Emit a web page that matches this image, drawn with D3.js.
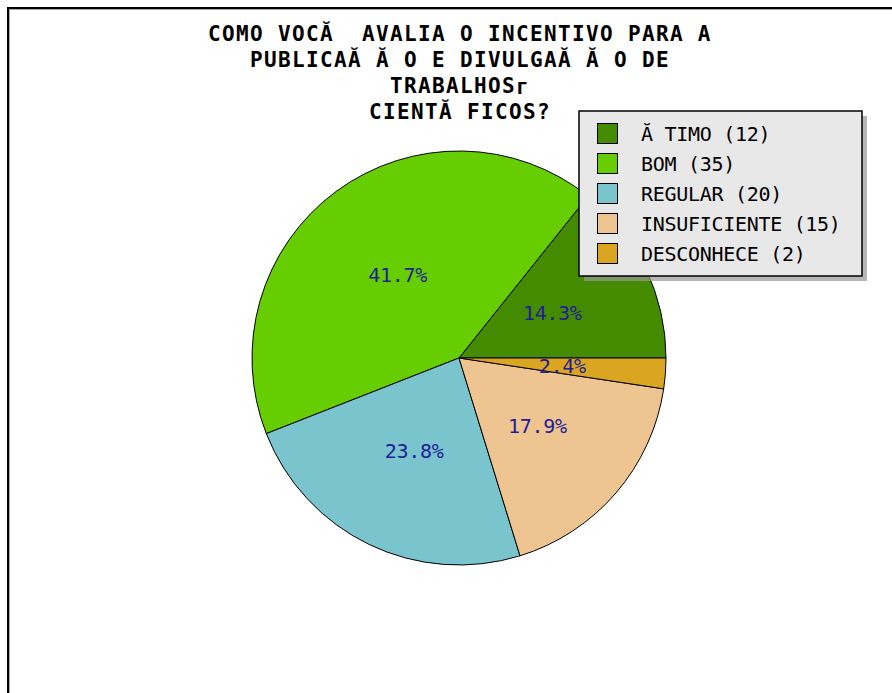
<!DOCTYPE html>
<html>
<head>
<meta charset="utf-8">
<script src="https://cdn.jsdelivr.net/npm/d3@7"></script>
<style>
  html, body { margin: 0; padding: 0; background: #fff; }
  svg { display: block; }
  .title { white-space: pre; }
</style>
</head>
<body>
<div id="chart"></div>
<script>
// Données
const titleLines = [
  "COMO VOCĂ  AVALIA O INCENTIVO PARA A",
  "PUBLICAĂ Ă O E DIVULGAĂ Ă O DE",
  "TRABALHOS",
  "CIENTĂ FICOS?"
];
const categories = ["Ă TIMO", "BOM", "REGULAR", "INSUFICIENTE", "DESCONHECE"];
const counts = [12, 35, 20, 15, 2];
const colors = ["#458b00", "#66cd00", "#7ac5cd", "#eec591", "#daa520"];

const data = categories.map((c, i) => ({ name: c, value: counts[i], color: colors[i] }));
const total = d3.sum(counts);

const W = 892, H = 693;
const mono = "'DejaVu Sans Mono', 'Liberation Mono', monospace";

const svg = d3.select("#chart").append("svg")
  .attr("width", W).attr("height", H);

// Cadre
svg.append("rect")
  .attr("x", 8).attr("y", 8).attr("width", W + 20).attr("height", H + 20)
  .attr("fill", "none").attr("stroke", "#000").attr("stroke-width", 2);
svg.append("rect")
  .attr("x", 9.5).attr("y", 9.5).attr("width", W + 20).attr("height", H + 20)
  .attr("fill", "none").attr("stroke", "#aaa").attr("stroke-width", 1);

// Titre
const title = svg.append("text")
  .attr("class", "title")
  .attr("text-anchor", "middle")
  .attr("font-family", mono)
  .attr("font-weight", "bold")
  .attr("font-size", "21px")
  .attr("letter-spacing", "1.35px")
  .attr("fill", "#000");
const titleY = [41, 67, 93, 119];
titleLines.forEach((line, i) => {
  title.append("tspan").attr("x", 460).attr("y", titleY[i]).text(line);
  if (i === 2) {
    title.append("tspan").attr("dy", 1).text("г");
  }
});

// Camembert
const cx = 459, cy = 358, R = 207;
const pie = d3.pie()
  .value(d => d.value)
  .sort(null)
  .startAngle(Math.PI / 2)
  .endAngle(Math.PI / 2 - 2 * Math.PI);
const arc = d3.arc().innerRadius(0).outerRadius(R);
const labelArc = d3.arc().innerRadius(R * 0.5).outerRadius(R * 0.5);

const g = svg.append("g").attr("transform", `translate(${cx},${cy})`);
const arcs = pie(data);

g.selectAll("path")
  .data(arcs)
  .enter().append("path")
  .attr("d", arc)
  .attr("fill", d => d.data.color)
  .attr("stroke", "#000")
  .attr("stroke-width", 1);

g.selectAll("text.pct")
  .data(arcs)
  .enter().append("text")
  .attr("class", "pct")
  .attr("transform", d => `translate(${labelArc.centroid(d)})`)
  .attr("text-anchor", "middle")
  .attr("dy", "0.36em")
  .attr("font-family", mono)
  .attr("font-size", "20px")
  .attr("letter-spacing", "-0.3px")
  .attr("fill", "#1e1e96")
  .text(d => (d.data.value / total * 100).toFixed(1) + "%");

// Légende
const lg = svg.append("g").attr("transform", "translate(579,111)");
const lgW = 283, lgH = 165;
lg.append("rect")
  .attr("x", 5).attr("y", 5).attr("width", lgW).attr("height", lgH)
  .attr("fill", "#999").attr("opacity", 0.7);
lg.append("rect")
  .attr("x", 0).attr("y", 0).attr("width", lgW).attr("height", lgH)
  .attr("fill", "#e8e8e8").attr("stroke", "#000").attr("stroke-width", 1.5);

const rows = lg.selectAll("g.row")
  .data(data)
  .enter().append("g")
  .attr("class", "row")
  .attr("transform", (d, i) => `translate(0,${12 + i * 30})`);
rows.append("rect")
  .attr("x", 18.5).attr("y", 0.5).attr("width", 20).attr("height", 20)
  .attr("fill", d => d.color)
  .attr("stroke", "#000").attr("stroke-width", 1);
rows.append("text")
  .attr("class", "title")
  .attr("x", 62).attr("y", 18)
  .attr("font-family", mono)
  .attr("font-size", "20px")
  .attr("letter-spacing", "-0.3px")
  .attr("fill", "#000")
  .text(d => `${d.name} (${d.value})`);
</script>
</body>
</html>
